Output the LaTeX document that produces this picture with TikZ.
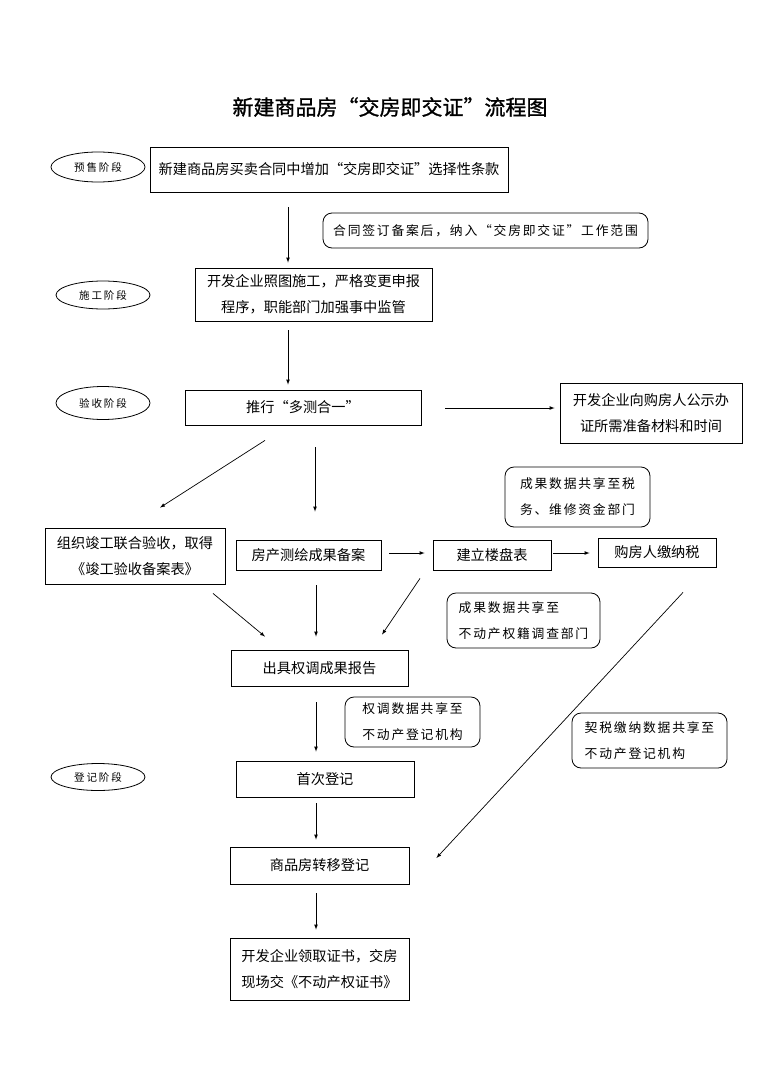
\documentclass[tikz,border=0pt]{standalone}
\usepackage{fontspec}
\setmainfont{Noto Sans CJK SC}
\newfontfamily\notefont[LetterSpace=14]{Noto Sans CJK SC}
\newfontfamily\stagefont[LetterSpace=18]{Noto Sans CJK SC}
\newfontfamily\titlefont[FakeBold=1.2]{Noto Sans CJK SC}
\usetikzlibrary{shapes.geometric}

\begin{document}
\begin{tikzpicture}[x=1pt,y=-1pt,
    every node/.style={inner sep=0pt},
    stage/.style={draw,ellipse,line width=0.8pt,minimum width=94,minimum height=30,
      font=\stagefont\fontsize{10.5}{12}\selectfont},
    stepbox/.style={draw,line width=0.8pt,align=center,
      font=\fontsize{14.2}{26}\selectfont},
    note/.style={draw,rounded corners=9pt,line width=0.8pt,align=left,
      font=\notefont\fontsize{12.8}{26}\selectfont},
    arr/.style={->,>=latex,line width=0.7pt}
    ]
    \useasboundingbox (0,0) rectangle (780,1070);

    % the title
    \node (title) at (390,107) {\titlefont\fontsize{21}{24}\selectfont 新建商品房“交房即交证”流程图};

    % the stages
    \foreach \i/\x/\y/\h/\t in {1/98/167/30/预售阶段,2/103/295/28/施工阶段,3/103/403/33/验收阶段,4/98/777/27/登记阶段}
    \node[stage,minimum height=\h] (s\i) at (\x,\y) {\t};

    % the steps
    \node[stepbox,minimum width=358,minimum height=45] (b1) at (329,169.5) {新建商品房买卖合同中增加“交房即交证”选择性条款};
    \node[stepbox,minimum width=237,minimum height=53] (b2) at (313.5,294.5) {开发企业照图施工，严格变更申报\\程序，职能部门加强事中监管};
    \node[stepbox,minimum width=236,minimum height=35] (b3) at (303,407.5) {推行“多测合一”};
    \node[stepbox,minimum width=182,minimum height=60] (b4) at (651,413) {开发企业向购房人公示办\\证所需准备材料和时间};
    \node[stepbox,minimum width=180,minimum height=56] (b5) at (135,556) {组织竣工联合验收，取得\\《竣工验收备案表》};
    \node[stepbox,minimum width=145,minimum height=30] (b6) at (308.5,555) {房产测绘成果备案};
    \node[stepbox,minimum width=118,minimum height=30] (b7) at (492,555) {建立楼盘表};
    \node[stepbox,minimum width=118,minimum height=29] (b8) at (657,552.5) {购房人缴纳税};
    \node[stepbox,minimum width=177,minimum height=36] (b9) at (319.5,668) {出具权调成果报告};
    \node[stepbox,minimum width=178,minimum height=36] (b10) at (325,779) {首次登记};
    \node[stepbox,minimum width=179,minimum height=37] (b11) at (319.5,865.5) {商品房转移登记};
    \node[stepbox,minimum width=179,minimum height=62] (b12) at (319.5,969) {开发企业领取证书，交房\\现场交《不动产权证书》};

    % the notes
    \node[note,minimum width=325,minimum height=35] (n1) at (485.5,230.5) {合同签订备案后，纳入“交房即交证”工作范围};
    \node[note,minimum width=145,minimum height=60] (n2) at (577.5,497) {成果数据共享至税\\务、维修资金部门};
    \node[note,minimum width=153,minimum height=55] (n3) at (523.5,620.5) {成果数据共享至\\不动产权籍调查部门};
    \node[note,minimum width=135,minimum height=50] (n4) at (412.5,722) {权调数据共享至\\不动产登记机构};
    \node[note,minimum width=155,minimum height=55] (n5) at (649.5,740.5) {契税缴纳数据共享至\\不动产登记机构};

    % the arrows
    \draw[arr] ([shift={(-41,15)}]b1.south) -- ([shift={(-25.5,-5)}]b2.north);
    \draw[arr] ([shift={(-25.5,9)}]b2.south) -- ([shift={(-15,-5)}]b3.north);
    \draw[arr] ([shift={(24,0.5)}]b3.east) -- ([shift={(-5,-5)}]b4.west);
    \draw[arr] ([shift={(-38,15)}]b3.south) -- ([shift={(25,-20)}]b5.north);
    \draw[arr] ([shift={(12,22)}]b3.south) -- ([shift={(6.5,-28)}]b6.north);
    \draw[arr] ([shift={(8,-2)}]b6.east) -- ([shift={(-8,-2)}]b7.west);
    \draw[arr] ([shift={(2,-2)}]b7.east) -- ([shift={(-8,0.5)}]b8.west);
    \draw[arr] ([shift={(78,9)}]b5.south) -- ([shift={(-54.5,-13)}]b9.north);
    \draw[arr] ([shift={(7.5,15)}]b6.south) -- ([shift={(-3.5,-13)}]b9.north);
    \draw[arr] ([shift={(-72,8)}]b7.south) -- ([shift={(62.5,-15)}]b9.north);
    \draw[arr] ([shift={(26,25)}]b8.south) -- ([shift={(27,-7.5)}]b11.east);
    \draw[arr] ([shift={(-3.5,16)}]b9.south) -- ([shift={(-9,-9)}]b10.north);
    \draw[arr] ([shift={(-9,6)}]b10.south) -- ([shift={(-3.5,-7)}]b11.north);
    \draw[arr] ([shift={(-3.5,9)}]b11.south) -- ([shift={(-3.5,-8)}]b12.north);
\end{tikzpicture}
\end{document}
